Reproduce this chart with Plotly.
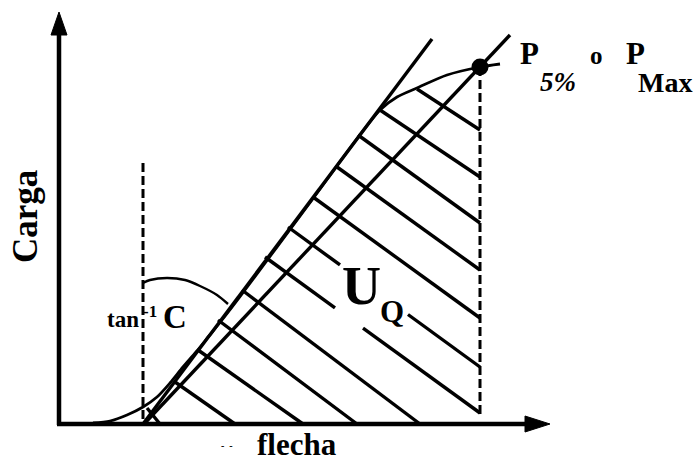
import plotly.graph_objects as go
import numpy as np

# ---- data (chart units: 1 unit ~ 1 px, origin at the axes corner) ----
# load-deflection curve
curve_x = [34, 51, 68, 84, 98, 111, 124, 137, 150, 165, 180, 250, 321, 338, 358, 388, 421, 441]
curve_y = [1, 3, 9, 17, 27, 41, 57, 72, 88, 106.5, 126, 220, 314, 327, 336, 349, 357, 360]

# tangent line (slope C) and secant line through P
tangent_x = [84, 373]
tangent_y = [0, 385]
secant_x = [85, 451]
secant_y = [0, 389]

# point P (5% or Max)
p_x = [421]
p_y = [357]

# dashed verticals
dash1_x = [84, 84]
dash1_y = [261, 0]
dash2_x = [421, 421]
dash2_y = [357, 8]

# angle arc (tan^-1 C)
arc_x = [84, 91, 108, 126, 141, 158, 169]
arc_y = [141, 144, 146, 144, 138, 129, 120]

# hatch lines (start on curve, end on dashed line or on the x axis)
hatch_x0 = [358, 321, 299, 278, 254, 229, 206, 183, 159, 139, 116, 88]
hatch_y0 = [335, 314, 289, 257, 227, 197, 167, 134, 104, 74, 42, 16]
hatch_x1 = [421, 421, 421, 421, 421, 421, 421, 361, 298, 244, 176, 101]
hatch_y1 = [294, 247, 201, 154, 106, 57, 11, 0, 0, 0, 0, 0]
# gaps left for the U_Q label: (hatch index, gap start x, gap end x)
gap_idx = [5, 6]
gap_x0 = [281, 276]
gap_x1 = [349, 304]

# axes
xaxis_x = [-2, 471]
xaxis_y = [0, 0]
yaxis_x = [0, 0]
yaxis_y = [-1, 393]
xarrow_x = [491, 466, 466, 491]
xarrow_y = [0, 8, -8, 0]
yarrow_x = [0, -8, 8, 0]
yarrow_y = [412, 389, 389, 412]

BLACK = "#000000"
FONT = "Liberation Serif"

fig = go.Figure()

def line(x, y, width=3, dash=None, shape="linear"):
    fig.add_trace(go.Scatter(x=x, y=y, mode="lines", hoverinfo="skip",
                             line=dict(color=BLACK, width=width, dash=dash, shape=shape,
                                       smoothing=0.8 if shape == "spline" else None)))

# hatch lines
hx, hy = [], []
for i in range(len(hatch_x0)):
    x0, y0, x1, y1 = hatch_x0[i], hatch_y0[i], hatch_x1[i], hatch_y1[i]
    if i in gap_idx:
        k = gap_idx.index(i)
        ga, gb = gap_x0[k], gap_x1[k]
        ya = np.interp(ga, [x0, x1], [y0, y1])
        yb = np.interp(gb, [x0, x1], [y0, y1])
        hx += [x0, ga, None, gb, x1, None]
        hy += [y0, ya, None, yb, y1, None]
    else:
        hx += [x0, x1, None]
        hy += [y0, y1, None]
line(hx, hy, width=3.4)

line(dash1_x, dash1_y, width=3, dash="9px,4px")
line(dash2_x, dash2_y, width=3, dash="9px,4px")
line(arc_x, arc_y, width=2.4, shape="spline")
line(tangent_x, tangent_y, width=3.4)
line(secant_x, secant_y, width=3.4)
line(curve_x, curve_y, width=2.8, shape="spline")

# axes
line(xaxis_x, xaxis_y, width=4.5)
line(yaxis_x, yaxis_y, width=4.5)
for ax_, ay_ in [(xarrow_x, xarrow_y), (yarrow_x, yarrow_y)]:
    fig.add_trace(go.Scatter(x=ax_, y=ay_, mode="lines", fill="toself", fillcolor=BLACK,
                             line=dict(color=BLACK, width=1), hoverinfo="skip"))

fig.add_trace(go.Scatter(x=p_x, y=p_y, mode="markers", hoverinfo="skip",
                         marker=dict(color=BLACK, size=17)))

def label(text, x, y, size, xanchor="left", yanchor="middle", angle=0, italic=False):
    fig.add_annotation(x=x, y=y, text=text, showarrow=False, xanchor=xanchor, yanchor=yanchor,
                       textangle=angle,
                       font=dict(family=FONT, size=size, color=BLACK, weight="bold",
                                 style="italic" if italic else "normal"))

label("Carga", -34, 207, 35, xanchor="center", angle=-90)
label("flecha", 238, -39.5, 31, xanchor="center", yanchor="bottom")
label("tan", 46, 105, 23)
label("-1", 82, 113, 17)
label("C", 102, 107, 33)
label("U", 281, 138, 54)
label("Q", 319, 113, 31)
label("P", 459, 371, 31)
label("5%", 479, 342, 27, italic=True)
label("o", 529, 369, 25)
label("P", 565, 371, 31)
label("Max", 577, 342, 28)
label("-  -", 160, -21, 10)

fig.update_layout(
    width=697, height=464, margin=dict(l=0, r=0, t=0, b=0),
    paper_bgcolor="white", plot_bgcolor="white", showlegend=False,
    xaxis=dict(range=[-59, 638], visible=False, fixedrange=True),
    yaxis=dict(range=[-40, 424], visible=False, fixedrange=True),
)
fig.write_html("out.html", config={"displayModeBar": False},
               post_script="document.body.style.margin='0';document.body.style.overflow='hidden';")
